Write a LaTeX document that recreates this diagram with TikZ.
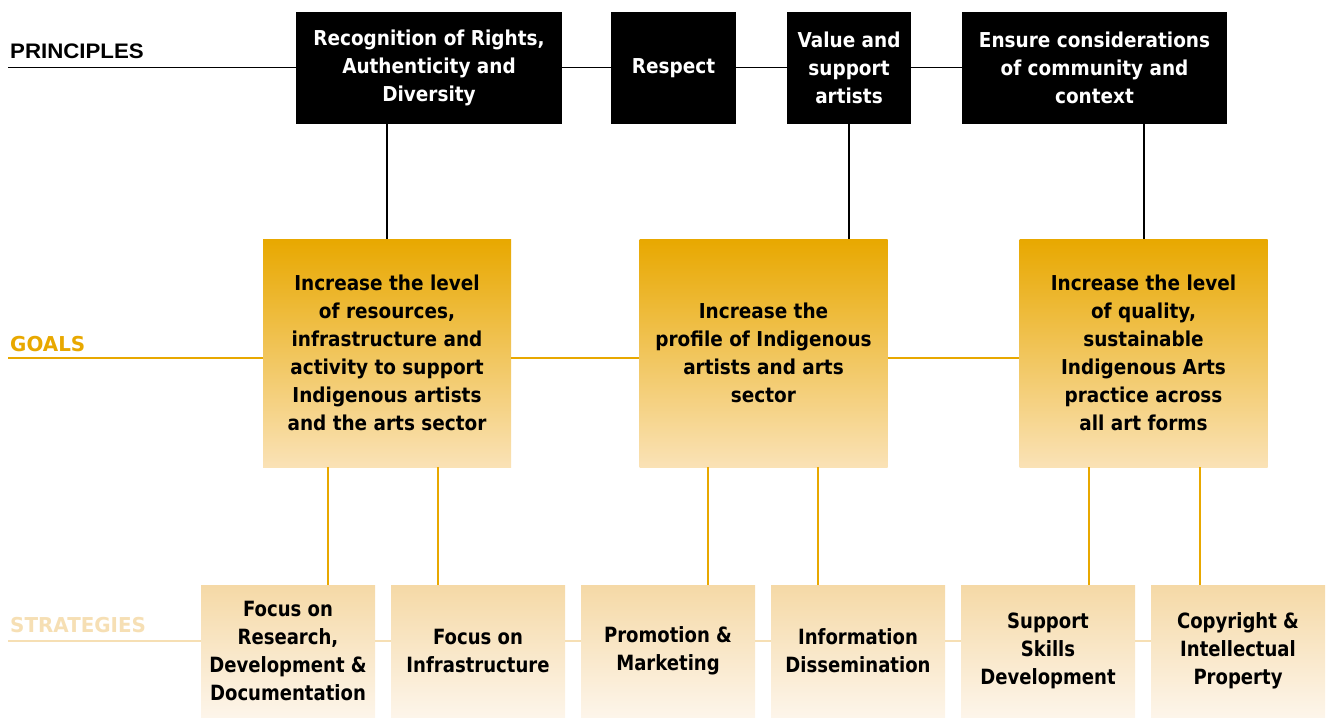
\documentclass[tikz,border=0pt]{standalone}
\usepackage{fontspec}
\setmainfont{DejaVu Sans}
\newfontfamily\boxfont[FakeStretch=0.9]{DejaVu Sans}
\newfontfamily\stratfont[FakeStretch=0.86]{DejaVu Sans}
\newfontfamily\rowfont[FakeStretch=0.97]{DejaVu Sans}
\newfontfamily\headfont[FakeStretch=1.06]{Liberation Sans}
\usetikzlibrary{positioning}
\definecolor{gold}{HTML}{E8A800}
\definecolor{goldpale}{HTML}{FAE2B6}
\definecolor{sand}{HTML}{F5D9A6}
\definecolor{sandpale}{HTML}{FDF5EA}
\definecolor{stratlabel}{HTML}{F6DFB4}
\tikzset{
  principle/.style={fill=black,text=white,minimum height=112pt,align=center,
    font=\boxfont\bfseries\fontsize{20.5}{28}\selectfont},
  goal/.style={top color=gold,bottom color=goldpale,minimum width=248pt,minimum height=228pt,
    align=center,font=\boxfont\bfseries\fontsize{20.5}{28}\selectfont},
  strategy/.style={top color=sand,bottom color=sandpale,minimum width=174pt,minimum height=132pt,
    align=center,font=\stratfont\bfseries\fontsize{21}{28}\selectfont},
  rowlabel/.style={anchor=base west,inner sep=0pt,font=\rowfont\bfseries\fontsize{20.5}{24}\selectfont},
  blackline/.style={draw=black,line width=2pt},
  goldline/.style={draw=gold,line width=2pt},
  sandline/.style={draw=stratlabel,line width=2pt}
}
\begin{document}
\begin{tikzpicture}[x=1pt,y=-1pt]
   \useasboundingbox (0,0) rectangle (1329,717);
   % row labels
   \node[rowlabel,font=\headfont\bfseries\fontsize{21}{24}\selectfont] (lprin) at (10,59) {PRINCIPLES};
   \node[rowlabel,text=gold] (lgoal) at (10,351) {GOALS};
   \node[rowlabel,text=stratlabel] (lstrat) at (10,632) {STRATEGIES};
   \coordinate (pstart) at (8,67);
   \coordinate (gstart) at (8,358);
   \coordinate (sstart) at (8,641);
   % principles
   \node[principle,minimum width=266pt] (rights) at (429,68) {Recognition of Rights,\\Authenticity and\\Diversity};
   \node[principle,minimum width=125pt] (respect) at (673.5,68) {Respect};
   \node[principle,minimum width=124pt] (artists) at (849,68) {Value and\\support\\artists};
   \node[principle,minimum width=265pt] (context) at (1094.5,68) {Ensure considerations\\of community and\\context};
   % goals
   \node[goal] (resources) at (387,353) {Increase the level\\of resources,\\infrastructure and\\activity to support\\Indigenous artists\\and the arts sector};
   \node[goal] (profile) at (763.5,353) {Increase the\\profile of Indigenous\\artists and arts\\sector};
   \node[goal] (quality) at (1143.5,353) {Increase the level\\of quality,\\sustainable\\Indigenous Arts\\practice across\\all art forms};
   % strategies
   \node[strategy] (research) at (288,651) {Focus on\\Research,\\Development \&\\Documentation};
   \node[strategy] (infra) at (478,651) {Focus on\\Infrastructure};
   \node[strategy] (promo) at (668,651) {Promotion \&\\Marketing};
   \node[strategy] (info) at (858,651) {Information\\Dissemination};
   \node[strategy] (skills) at (1048,651) {Support\\Skills\\Development};
   \node[strategy] (copy) at (1238,651) {Copyright \&\\Intellectual\\Property};
   % principles line
   \draw[line width=1pt] (pstart) -- (pstart -| rights.west);
   \draw[line width=1pt] (rights.east |- pstart) -- (pstart -| respect.west);
   \draw[line width=1pt] (respect.east |- pstart) -- (pstart -| artists.west);
   \draw[line width=1pt] (artists.east |- pstart) -- (pstart -| context.west);
   \draw[blackline] (rights.south -| resources.north) -- (resources.north);
   \draw[blackline] (artists.south) -- (artists.south |- profile.north);
   \draw[blackline] (quality.north |- context.south) -- (quality.north);
   % goals line
   \draw[goldline,line width=1.5pt] (gstart) -- (gstart -| resources.west);
   \draw[goldline,line width=1.5pt] (resources.east |- gstart) -- (gstart -| profile.west);
   \draw[goldline,line width=1.5pt] (profile.east |- gstart) -- (gstart -| quality.west);
   \draw[goldline] ([xshift=-59pt]resources.south) -- ([xshift=-59pt]resources.south |- research.north);
   \draw[goldline] ([xshift=51pt]resources.south) -- ([xshift=51pt]resources.south |- infra.north);
   \draw[goldline] ([xshift=-55.5pt]profile.south) -- ([xshift=-55.5pt]profile.south |- promo.north);
   \draw[goldline] ([xshift=54.5pt]profile.south) -- ([xshift=54.5pt]profile.south |- info.north);
   \draw[goldline] ([xshift=-54.5pt]quality.south) -- ([xshift=-54.5pt]quality.south |- skills.north);
   \draw[goldline] ([xshift=56.5pt]quality.south) -- ([xshift=56.5pt]quality.south |- copy.north);
   % strategies line
   \draw[sandline] (sstart) -- (sstart -| research.west);
   \draw[sandline] (research.east |- sstart) -- (sstart -| infra.west);
   \draw[sandline] (infra.east |- sstart) -- (sstart -| promo.west);
   \draw[sandline] (promo.east |- sstart) -- (sstart -| info.west);
   \draw[sandline] (info.east |- sstart) -- (sstart -| skills.west);
   \draw[sandline] (skills.east |- sstart) -- (sstart -| copy.west);
\end{tikzpicture}
\end{document}
